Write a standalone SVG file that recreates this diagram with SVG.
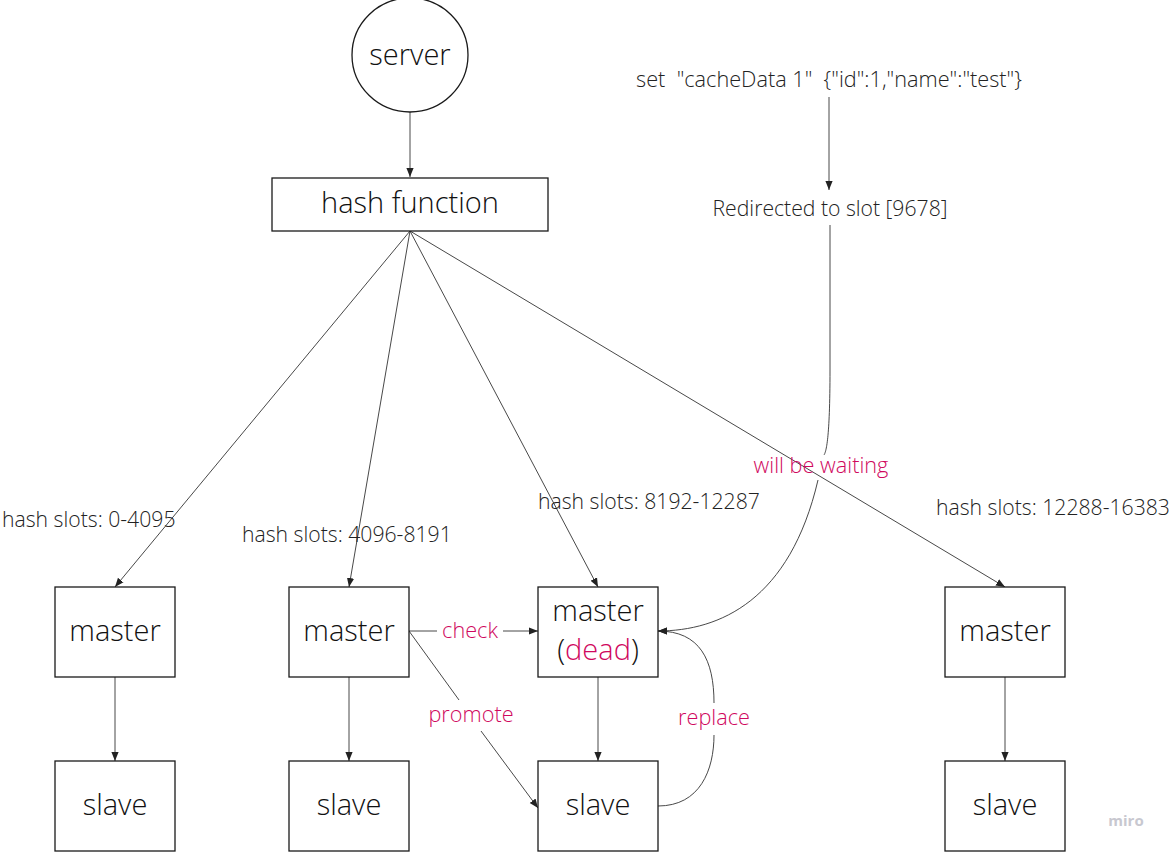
<svg xmlns="http://www.w3.org/2000/svg" width="1171" height="853" viewBox="0 0 1171 853">
<style>
.n{fill:#fff;stroke:#1a1a1a;stroke-width:1.3}
.t{font-family:"Open Sans","Noto Sans",sans-serif;font-weight:300;fill:#111;text-anchor:middle}
.big{font-size:29px}
.lb{font-family:"Open Sans","Noto Sans",sans-serif;font-weight:300;font-size:21.2px;fill:#222;white-space:pre}
.pk{font-family:"Open Sans","Noto Sans",sans-serif;font-weight:300;font-size:21.7px;fill:#d0085e;text-anchor:middle}
.c{fill:none;stroke:#333;stroke-width:0.9}
</style>
<defs>
<marker id="a" viewBox="0 0 10 10" refX="10" refY="5" markerWidth="9" markerHeight="9" markerUnits="userSpaceOnUse" orient="auto">
<path d="M0,1 L10,5 L0,9 Z" fill="#222"/>
</marker>
</defs>
<rect width="1171" height="853" fill="#fff"/>
<g id="connectors">
<line class="c" x1="410" y1="112" x2="410" y2="177" marker-end="url(#a)"/>
<line class="c" x1="410" y1="231" x2="115" y2="587" marker-end="url(#a)"/>
<line class="c" x1="410" y1="231" x2="349" y2="587" marker-end="url(#a)"/>
<line class="c" x1="410" y1="231" x2="598" y2="587" marker-end="url(#a)"/>
<line class="c" x1="410" y1="231" x2="1005" y2="587" marker-end="url(#a)"/>
<line class="c" x1="115" y1="677" x2="115" y2="761" marker-end="url(#a)"/>
<line class="c" x1="349" y1="677" x2="349" y2="761" marker-end="url(#a)"/>
<line class="c" x1="598" y1="677" x2="598" y2="761" marker-end="url(#a)"/>
<line class="c" x1="1005" y1="677" x2="1005" y2="761" marker-end="url(#a)"/>
<path class="c" d="M409,631 L437,631 M503,631 L538,631" marker-end="url(#a)"/>
<path class="c" d="M409,631 L459,700 M481,731 L538,808" marker-end="url(#a)"/>
<path class="c" d="M658,806 C700,806 714,770 714,735 M714,703 C714,660 700,631 658,631" marker-end="url(#a)"/>
<path class="c" d="M830,225 L830,370 C830,440 826,452 824,455 M818,480 C790,600 720,631 658,631" marker-end="url(#a)"/>
<line class="c" x1="829" y1="97" x2="829" y2="190" stroke="#555" marker-end="url(#a)"/>
</g>
<g id="server">
<ellipse class="n" cx="410" cy="55" rx="58" ry="57"/>
<text class="t big" x="410" y="65">server</text>
</g>
<g id="hash">
<rect class="n" x="272" y="178" width="276" height="53"/>
<text class="t big" x="410" y="213">hash function</text>
</g>
<g id="master1"><rect class="n" x="55" y="587" width="120" height="90"/><text class="t big" x="115" y="641">master</text></g>
<g id="master2"><rect class="n" x="289" y="587" width="120" height="90"/><text class="t big" x="349" y="641">master</text></g>
<g id="master3"><rect class="n" x="538" y="587" width="120" height="90"/><text class="t big" x="598" y="621">master</text><text class="t big" x="598" y="660">(<tspan fill="#d0085e">dead</tspan>)</text></g>
<g id="master4"><rect class="n" x="945" y="587" width="120" height="90"/><text class="t big" x="1005" y="641">master</text></g>
<g id="slave1"><rect class="n" x="55" y="761" width="120" height="90"/><text class="t big" x="115" y="815">slave</text></g>
<g id="slave2"><rect class="n" x="289" y="761" width="120" height="90"/><text class="t big" x="349" y="815">slave</text></g>
<g id="slave3"><rect class="n" x="538" y="761" width="120" height="90"/><text class="t big" x="598" y="815">slave</text></g>
<g id="slave4"><rect class="n" x="945" y="761" width="120" height="90"/><text class="t big" x="1005" y="815">slave</text></g>
<g id="labels">
<text class="lb" x="2" y="527">hash slots: 0-4095</text>
<text class="lb" x="242" y="542">hash slots: 4096-8191</text>
<text class="lb" x="538" y="509">hash slots: 8192-12287</text>
<text class="lb" x="936" y="515">hash slots: 12288-16383</text>
<text class="lb" x="829" y="87" text-anchor="middle" xml:space="preserve" style="font-size:21.7px">set  "cacheData 1"  {"id":1,"name":"test"}</text>
<text class="lb" x="830" y="216" text-anchor="middle">Redirected to slot [9678]</text>
<text class="pk" x="470" y="638">check</text>
<text class="pk" x="471" y="722">promote</text>
<text class="pk" x="714" y="725">replace</text>
<text class="pk" x="821" y="473">will be waiting</text>
<text x="1126" y="826" font-family="Open Sans,sans-serif" font-size="15" fill="#c8c8d0" text-anchor="middle" font-weight="bold">miro</text>
</g>
</svg>
